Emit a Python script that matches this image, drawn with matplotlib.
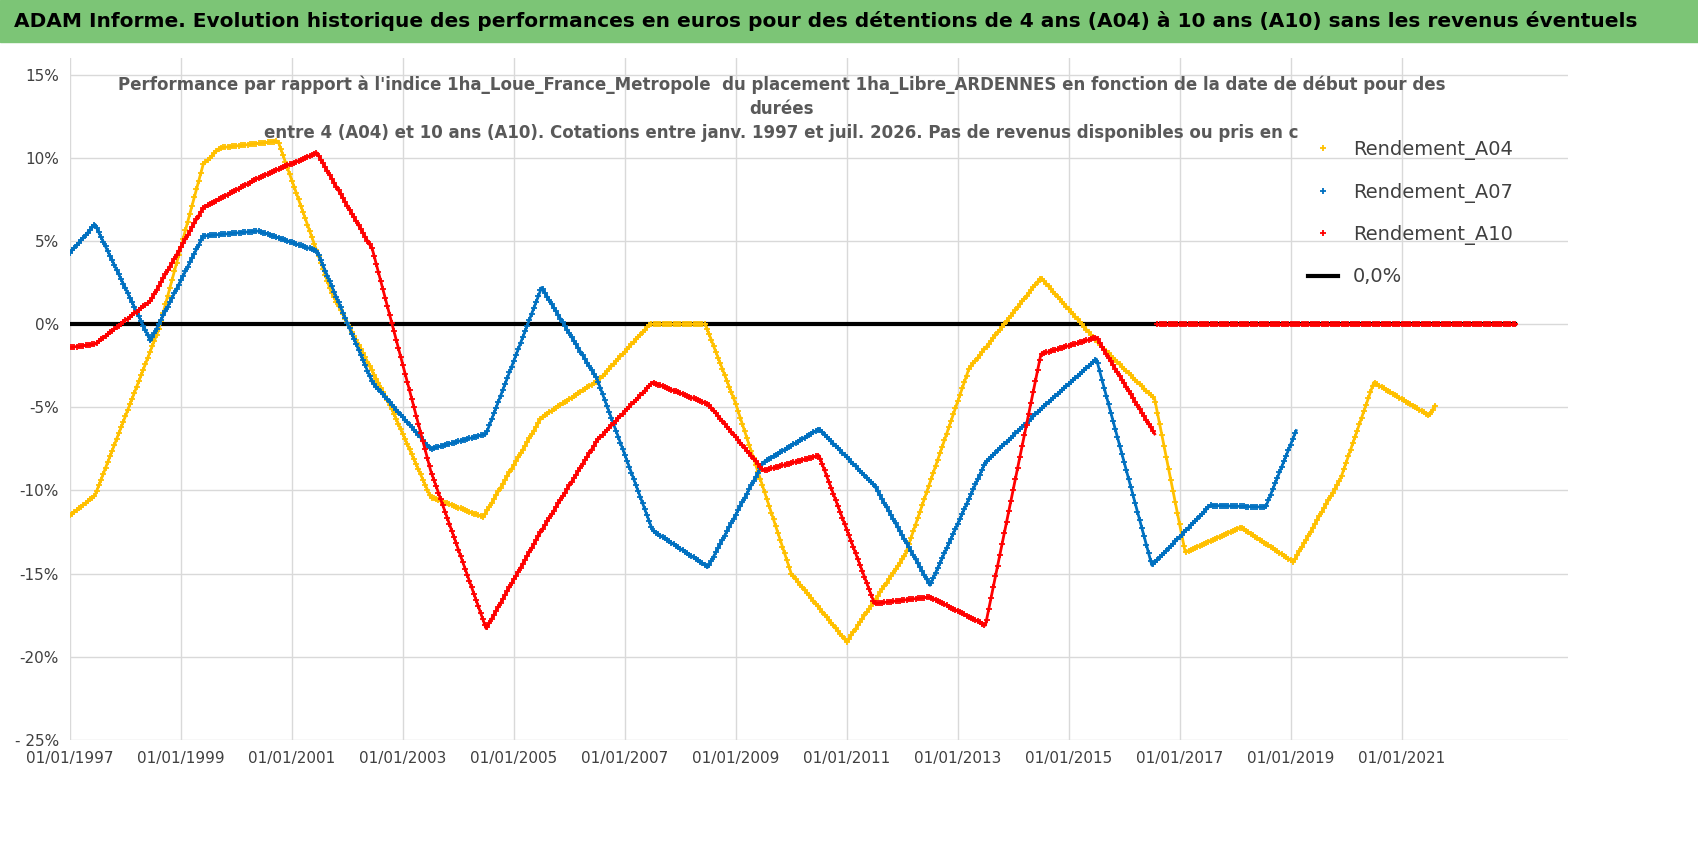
import numpy as np
import matplotlib
matplotlib.use('Agg')
import matplotlib.pyplot as plt
from matplotlib.patches import Rectangle

plt.rcParams['font.family'] = ['Liberation Sans Narrow', 'DejaVu Sans']

# données (année décimale, rendement %)
a04_x = [1997.0, 1997.45, 1998.6, 1999.4, 1999.7, 2000.75, 2001.7, 2002.8, 2003.5, 2004.45,
         2005.5, 2006.55, 2007.45, 2008.45, 2009.0, 2010.0, 2011.0, 2012.05, 2013.2, 2014.5,
         2015.55, 2016.55, 2017.1, 2018.1, 2019.05, 2019.9, 2020.5, 2021.5, 2021.6]
a04_y = [-11.5, -10.3, -0.3, 9.6, 10.6, 11.0, 2.0, -5.1, -10.4, -11.6,
         -5.6, -3.3, 0.0, 0.0, -4.8, -15.0, -19.1, -13.9, -2.7, 2.8,
         -1.2, -4.5, -13.7, -12.2, -14.3, -9.3, -3.5, -5.5, -4.9]
a07_x = [1997.0, 1997.45, 1998.45, 1999.4, 2000.4, 2001.45, 2002.45, 2003.5, 2004.5, 2005.5,
         2006.5, 2007.5, 2008.5, 2009.5, 2010.5, 2011.5, 2012.5, 2013.5, 2014.5, 2015.5,
         2016.5, 2017.55, 2018.55, 2019.1]
a07_y = [4.3, 6.0, -1.0, 5.3, 5.6, 4.4, -3.5, -7.5, -6.6, 2.2,
         -3.3, -12.4, -14.6, -8.3, -6.3, -9.7, -15.7, -8.3, -5.1, -2.1,
         -14.5, -10.9, -11.0, -6.4]
a10_x = [1997.0, 1997.45, 1998.45, 1999.4, 2000.4, 2001.45, 2002.45, 2003.5, 2004.5, 2005.5,
         2006.5, 2007.5, 2008.5, 2009.5, 2010.5, 2011.5, 2012.5, 2013.5, 2014.5, 2015.5,
         2016.55]
a10_y = [-1.4, -1.2, 1.4, 7.0, 8.8, 10.3, 4.5, -8.8, -18.3, -12.4,
         -7.0, -3.5, -4.8, -8.8, -7.9, -16.8, -16.4, -18.1, -1.8, -0.8,
         -6.6]
a10_zero_x = [2016.6, 2023.05]
zero_x = [1997.0, 2023.05]

x_ticks = list(range(1997, 2023, 2))
x_labels = ['01/01/%d' % y for y in x_ticks]
y_ticks = [-25, -20, -15, -10, -5, 0, 5, 10, 15]
y_labels = ['- 25%', '-20%', '-15%', '-10%', '-5%', '0%', '5%', '10%', '15%']

fig = plt.figure(figsize=(16.98, 8.56), dpi=100)
fig.patches.append(Rectangle((0, 1 - 42 / 856), 1, 42 / 856, transform=fig.transFigure,
                             color='#7CC576', zorder=0))
fig.text(0.008, 1 - 21 / 856, "ADAM Informe. Evolution historique des performances en euros pour des détentions de 4 ans (A04) à 10 ans (A10) sans les revenus éventuels",
         fontsize=14.5, fontweight='bold', va='center', ha='left')

ax = fig.add_axes([70 / 1698, 1 - 740 / 856, (1568 - 70) / 1698, (740 - 58) / 856])
ax.set_xlim(1997, 2024.0)
ax.set_ylim(-25, 16)
ax.set_xticks(x_ticks)
ax.set_xticklabels(x_labels, fontsize=11, color='#404040')
ax.set_yticks(y_ticks)
ax.set_yticklabels(y_labels, fontsize=11, color='#404040')
ax.grid(True, color='#d9d9d9', lw=1)
ax.tick_params(length=0, pad=8)
for s in ax.spines.values():
    s.set_visible(False)


def dense(xs, ys, step=0.04):
    # positions des marqueurs "+" le long du segment
    xd = np.arange(xs[0], xs[-1] + 1e-9, step)
    return xd, np.interp(xd, xs, ys)


ax.plot(zero_x, [0, 0], color='black', lw=3, zorder=2)
series = [(a04_x, a04_y, '#FFC000', 'Rendement_A04'),
          (a07_x, a07_y, '#0070C0', 'Rendement_A07'),
          (a10_x, a10_y, '#FF0000', 'Rendement_A10')]
handles = []
for xs, ys, c, lab in series:
    ax.plot(xs, ys, color=c, lw=2, zorder=3)
    xd, yd = dense(xs, ys)
    h, = ax.plot(xd, yd, '+', color=c, ms=5, mew=1.3, zorder=3, label=lab)
    handles.append(h)
xd, yd = dense(a10_zero_x, [0, 0])
ax.plot(xd, yd, '+', color='#FF0000', ms=5, mew=1.3, zorder=4)
ax.plot(a10_zero_x, [0, 0], color='#FF0000', lw=2, zorder=4)
zh, = ax.plot([], [], color='black', lw=3, label='0,0%')
handles.append(zh)

leg = ax.legend(handles=handles, loc='upper left', bbox_to_anchor=(0.815, 0.905),
                frameon=False, fontsize=14, labelspacing=1.15, handlelength=1.5)
for t in leg.get_texts():
    t.set_color('#404040')

ax.text(0.475, 0.975, "Performance par rapport à l'indice 1ha_Loue_France_Metropole  du placement 1ha_Libre_ARDENNES en fonction de la date de début pour des\ndurées\nentre 4 (A04) et 10 ans (A10). Cotations entre janv. 1997 et juil. 2026. Pas de revenus disponibles ou pris en c",
        transform=ax.transAxes, ha='center', va='top', fontsize=12, fontweight='bold',
        color='#595959', linespacing=1.45)

fig.savefig('out.png', dpi=100)
